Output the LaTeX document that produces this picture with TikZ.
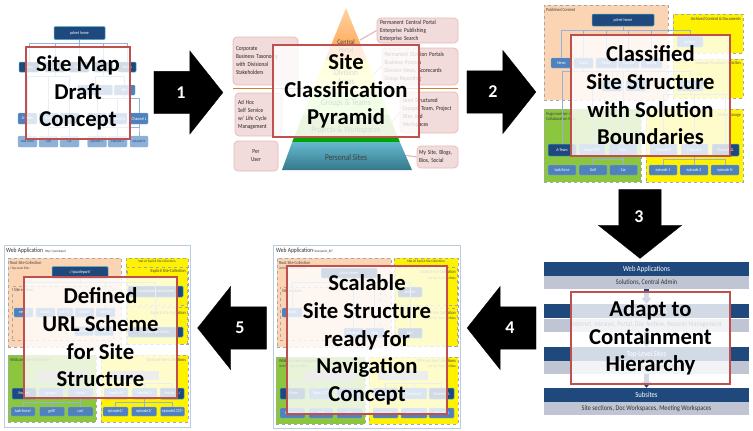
\documentclass[tikz,border=0pt]{standalone}
\usepackage{fontspec}
\setmainfont{Carlito}
\newfontfamily\narrowfont[FakeStretch=0.85]{Carlito}
\usepackage{xcolor}
\usepackage{tikz}
\usetikzlibrary{shapes.arrows,arrows.meta}
\definecolor{navy}{HTML}{1F497D}
\definecolor{steel}{HTML}{4F81BD}
\definecolor{skyish}{HTML}{8DB0D8}
\definecolor{cyanline}{HTML}{4BACC6}
\definecolor{peach}{HTML}{FBD4B4}
\definecolor{leaf}{HTML}{8CC63F}
\definecolor{blush}{HTML}{F2DCDB}
\definecolor{blushline}{HTML}{E6B9B8}
\definecolor{crimson}{HTML}{C0504D}
\definecolor{barsub}{HTML}{BFC5D2}
\definecolor{treeline}{HTML}{95B3D7}
\definecolor{framecol}{HTML}{B8CCE4}
\tikzset{
    w/.style={minimum width=#1pt},
    h/.style={minimum height=#1pt},
    darkbox/.style={fill=navy, draw=cyanline, line width=.5pt, rounded corners=1pt, inner sep=0, text=white, font=\narrowfont\fontsize{4.4}{5}\selectfont},
    midbox/.style={fill=steel, draw=skyish, line width=.3pt, rounded corners=1pt, inner sep=0, text=white, font=\narrowfont\fontsize{4.4}{5}\selectfont},
    lightbox/.style={fill=skyish, draw=steel!60, line width=.3pt, rounded corners=1pt, inner sep=0, text=navy, font=\narrowfont\fontsize{3.8}{5}\selectfont},
    region/.style={draw=black!35, dashed, line width=.5pt, inner sep=0},
    frame/.style={draw=framecol, fill=white, line width=1pt, inner sep=0},
    slab/.style={fill=black!35, inner sep=0},
    tiny/.style={inner sep=0, font=\narrowfont\fontsize{4.6}{5.5}\selectfont, text=black!75},
    tinier/.style={inner sep=0, font=\narrowfont\fontsize{3.5}{4}\selectfont, text=black!75},
    apptitle/.style={inner sep=0, font=\narrowfont\fontsize{6.5}{7}\selectfont, text=black!80},
    pinkbox/.style={fill=blush, draw=blushline, line width=.7pt, rounded corners=4pt, inner sep=0, align=left, font=\narrowfont\fontsize{6.2}{8}\selectfont, text=black!85},
    pinktail/.style={draw=blushline, line width=1.2pt},
    headbar/.style={fill=navy, text=white, inner sep=0, w=205, h=14, font=\narrowfont\fontsize{7.8}{8}\selectfont},
    subbar/.style={fill=barsub, text=black!80, inner sep=0, w=205, h=13, font=\narrowfont\fontsize{7.2}{8}\selectfont},
    barlink/.style={draw=navy, line width=4.5pt, -{Triangle[width=10pt,length=6pt]}},
    link/.style={draw=treeline, line width=.5pt, to path={(\tikztostart.south) -- ++(0,3.5) -| (\tikztotarget.north)}},
    bigarrow/.style={single arrow, fill=black, draw=black, line width=.3pt, inner xsep=0, inner ysep=21pt, minimum height=69pt, single arrow head extend=20.5pt, single arrow tip angle=103},
    arrownum/.style={inner sep=0, text=white, font=\bfseries\fontsize{18}{18}\selectfont},
    caption/.style={draw=crimson, line width=1.5pt, fill=white, fill opacity=.8, text opacity=1, inner sep=0, align=center, font=\bfseries\fontsize{22.7}{27.7}\selectfont},
    band/.style={font=\narrowfont\fontsize{8.8}{9.5}\selectfont, inner sep=0, align=center, text=black!75}
}
\begin{document}
\begin{tikzpicture}[x=1pt, y=-1pt]
    \useasboundingbox (0,0) rectangle (753,431);

    % site map draft
    \node[darkbox, w=51, h=13] (maphome) at (79.5,33) {pdnet home};
    \node[darkbox, w=20, h=10] (mapnews) at (29,67) {News};
    \node[darkbox, w=20, h=10] (mapsocial) at (55,67) {Social};
    \node[darkbox, w=20, h=10] (mappolicy) at (79,67) {Policy};
    \node[darkbox, w=20, h=10] (mapculture) at (103,67) {Culture};
    \node[darkbox, w=18, h=10] (mapsports) at (127,67) {Sports};
    \node[midbox, w=35, h=10] (mapsail) at (95,90) {Sailing};
    \node[midbox, w=21, h=10] (mapbar) at (124.5,90) {Bar};
    \node[midbox, w=19, h=11] (mapteam) at (27.5,118.5) {A-Team};
    \node[midbox, w=19, h=11] (mapgroup) at (48.5,118.5) {Team};
    \node[midbox, w=19, h=11] (mapclubs) at (69.5,118.5) {Clubs};
    \node[midbox, w=19, h=11] (mapchanp) at (97,118.5) {Channel P};
    \node[midbox, w=19, h=11] (mapchantwo) at (117.5,118.5) {Channel 2};
    \node[midbox, w=18, h=11] (mapchanl) at (139,118.5) {Channel L};
    \node[lightbox, w=19, h=11] (maptask) at (27.5,141.5) {task force};
    \node[lightbox, w=19, h=11] (mapgolf) at (48.5,141.5) {Golf};
    \node[lightbox, w=19, h=11] (mapcar) at (69.5,141.5) {Car};
    \node[lightbox, w=19, h=11] (mapepone) at (97,141.5) {episode 1};
    \node[lightbox, w=19, h=11] (mapeptwo) at (117.5,141.5) {episode 2};
    \node[lightbox, w=18, h=11] (mapepn) at (139,141.5) {episode N};
    \draw[link] (maphome) to (mapnews) (maphome) to (mapsocial) (maphome) to (mappolicy) (maphome) to (mapculture) (maphome) to (mapsports);
    \draw[link] (mapculture) to (mapsail) (mapculture) to (mapbar);
    \draw[link] (mapsocial) to (mapteam) (mapsocial) to (mapgroup) (mapsocial) to (mapclubs);
    \draw[link] (mapbar) to (mapchanp) (mapbar) to (mapchantwo) (mapbar) to (mapchanl);
    \draw[link] (mapclubs) to (mapgolf) (mapclubs) to (mapcar) (mapchanl) to (mapepone) (mapchanl) to (mapeptwo) (mapchanl) to (mapepn);
    \node[caption, w=104, h=92] (mapcap) at (78,93) {Site Map\\Draft\\Concept};

    % classification pyramid
    \node[pinkbox, w=81, h=25, text width=75pt] (permcentral) at (417.5,30.5) {Permanent Central Portal\\Enterprise Publishing\\Enterprise Search};
    \node[pinkbox, w=76, h=37, text width=71pt] (permdiv) at (420,66.5) {Permanent Division Portals\\Business Process\\Division News, Scorecards\\Group Reporting};
    \node[pinkbox, w=58, h=41, text width=53pt] (semi) at (429,112.5) {Semi Structured\\Groups, Team, Project\\Sites and\\Workspaces};
    \node[pinkbox, w=41, h=22, text width=37pt] (mysite) at (437.5,157) {My Site, Blogs,\\Bios, Social};
    \node[pinkbox, w=65, h=48, text width=59pt] (taxonomy) at (265.5,61) {Corporate\\Business Taxonomy\\with Divisional\\Stakeholders};
    \node[pinkbox, w=47, h=43, text width=41pt] (adhoc) at (258.5,114.5) {Ad Hoc\\Self Service\\w/ Life Cycle\\Management};
    \node[pinkbox, w=44, h=30, align=center] (peruser) at (256,156) {Per\\User};
    \coordinate (tailcentral) at (360,40);
    \coordinate (taildiv) at (373,75);
    \coordinate (tailsemi) at (390,125);
    \coordinate (tailsite) at (403,155);
    \draw[pinktail] (permcentral.west) -- (tailcentral);
    \draw[pinktail] (permdiv.west) -- (taildiv);
    \draw[pinktail] (semi.west) -- (tailsemi);
    \draw[pinktail] (mysite.west) -- (tailsite);
    \coordinate (ruleleft) at (233,88);
    \coordinate (ruleright) at (458,88);
    \draw[draw=brown!70!orange, line width=1pt] (ruleleft) -- (ruleright);
    \shade[top color=orange!35, bottom color=orange!75] (346,8) -- (366.9,60) -- (325.1,60) -- cycle;
    \shade[top color=yellow!80, bottom color=yellow!35] (325.1,60) -- (366.9,60) -- (379.7,92) -- (312.3,92) -- cycle;
    \fill[green!55!yellow!45] (312.3,92) -- (379.7,92) -- (388.9,115) -- (303.1,115) -- cycle;
    \fill[leaf!80] (303.1,115) -- (388.9,115) -- (398.2,138) -- (293.8,138) -- cycle;
    \fill[green!65!black] (293.8,138) -- (398.2,138) -- (399.8,142) -- (292.2,142) -- cycle;
    \shade[top color=cyanline!85, bottom color=cyanline!70!black] (292.2,142) -- (399.8,142) -- (412,170) -- (282,170) -- cycle;
    \node[band, font=\narrowfont\fontsize{7}{8.5}\selectfont] (central) at (346,46) {Central\\Portal};
    \node[band] (division) at (346,77) {Division\\Areas};
    \node[band] (groups) at (346,103) {Groups \& Teams};
    \node[band] (projects) at (346,130) {Projects \& Workspaces};
    \node[band] (personal) at (346,157) {Personal Sites};
    \node[caption, w=146, h=92] (pyrcap) at (346,91) {Site\\Classification\\Pyramid};

    % classified structure
    \node[region, fill=peach, w=124, h=95] (pubarea) at (606,52.5) {};
    \node[region, fill=yellow, w=70, h=39] (archarea) at (708,33.5) {};
    \node[region, fill=yellow, w=70, h=39] (sepaarea) at (708,78.5) {};
    \node[region, fill=leaf, w=97, h=73] (collarea) at (592.5,145.5) {};
    \node[region, fill=yellow, w=97, h=73] (mediaarea) at (694.5,145.5) {};
    \node[tiny, anchor=west] (pubtext) at (546,10) {Published Content};
    \node[tiny, anchor=east] (archtext) at (741,19) {Archived Content \& Documents};
    \node[tiny, anchor=east] (sepatext) at (741,63) {Separate Puzzlepart Solution};
    \node[tiny, anchor=north west, align=left] (colltext) at (546,112) {Huge number of\\Collaboration Sites};
    \node[tiny, anchor=east] (mediatext) at (741,115) {Media Storage};
    \node[darkbox, w=62, h=12] (clshome) at (623,20) {pdnet home};
    \node[midbox, w=26, h=11] (clsarch) at (690,41.5) {archive};
    \node[midbox, w=21, h=10] (clsnews) at (561.5,63) {News};
    \node[midbox, w=19, h=10] (clssocial) at (583.5,63) {Social};
    \node[midbox, w=21, h=10] (clspolicy) at (606.5,63) {Policy};
    \node[midbox, w=21, h=10] (clsculture) at (628.5,63) {Culture};
    \node[midbox, w=21, h=10] (clssports) at (651.5,63) {Sports};
    \node[midbox, w=20, h=11] (clsfoot) at (612,85.5) {Football};
    \node[midbox, w=20, h=11] (clsship) at (636,85.5) {Ship};
    \node[midbox, w=26, h=11] (clsbar) at (690,85.5) {Bar};
    \node[darkbox, w=28, h=12] (clsteam) at (562,150) {A-Team};
    \node[midbox, w=26, h=12] (clsleet) at (592,150) {Team 1337};
    \node[midbox, w=28, h=12] (clsclubs) at (623,150) {Clubs};
    \node[midbox, w=27, h=12] (clschanp) at (663.5,150) {Channel P};
    \node[midbox, w=27, h=12] (clschantwo) at (694.5,150) {Channel 2};
    \node[darkbox, w=27, h=12] (clschanl) at (725.5,150) {Channel 1L};
    \node[midbox, w=28, h=10] (clstask) at (562,170) {task force};
    \node[midbox, w=28, h=10] (clsgolf) at (593,170) {Golf};
    \node[midbox, w=28, h=10] (clscar) at (623.5,170) {Car};
    \node[midbox, w=28, h=10] (clsepone) at (663,170) {episode 1};
    \node[midbox, w=28, h=10] (clseptwo) at (694,170) {episode 2};
    \node[midbox, w=28, h=10] (clsepn) at (725,170) {episode N};
    \draw[link] (clshome) to (clsarch) (clshome) to (clsnews) (clshome) to (clssocial) (clshome) to (clspolicy) (clshome) to (clsculture) (clshome) to (clssports);
    \draw[link] (clsculture) to (clsfoot) (clsculture) to (clsship) (clsculture) to (clsbar);
    \draw[link] (clssocial) to (clsteam) (clssocial) to (clsleet) (clssocial) to (clsclubs);
    \draw[link] (clsbar) to (clschanp) (clsbar) to (clschantwo) (clsbar) to (clschanl);
    \draw[link] (clsclubs) to (clsgolf) (clsclubs) to (clscar) (clschantwo) to (clsepone) (clschantwo) to (clseptwo) (clschantwo) to (clsepn);
    \node[caption, w=159, h=121] (clscap) at (650.5,95.5) {Classified\\Site Structure\\with Solution\\Boundaries};

    % containment hierarchy
    \node[headbar] (webhead) at (646.5,269) {Web Applications};
    \node[subbar] (websub) at (646.5,282.5) {Solutions, Central Admin};
    \node[headbar] (collhead) at (646.5,311) {Site Collections};
    \node[subbar] (collsub) at (646.5,325) {Internet, Intranet, Portal, Doc Archive, Records Management};
    \node[headbar] (tophead) at (646.5,354) {Top-Level Sites};
    \node[subbar] (topsub) at (646.5,367.5) {Site home, Team Sites, Blogs};
    \node[headbar] (subhead) at (646.5,395) {Subsites};
    \node[subbar] (subsub) at (646.5,408.5) {Site sections, Doc Workspaces, Meeting Workspaces};
    \draw[barlink] (websub) -- (collhead);
    \draw[barlink] (collsub) -- (tophead);
    \draw[barlink] (topsub) -- (subhead);
    \node[caption, w=159, h=92] (hiercap) at (650.5,338) {Adapt to\\Containment\\Hierarchy};

    % scalable structure
    \node[frame, w=187, h=183] (scaframe) at (366.5,336.5) {};
    \node[apptitle, anchor=west] (scatitle) at (276,251) {Web Application};
    \node[tinier, anchor=west] (scaname) at (313,252) {"sharepoint\_80"};
    \node[region, fill=peach, w=114, h=89] (scaroot) at (334,302.5) {};
    \node[region, fill=yellow, w=64, h=88] (scaexp) at (426,302) {};
    \node[region, w=62, h=38] (scaexpone) at (426,286) {};
    \node[region, w=62, h=38] (scaexptwo) at (426,327) {};
    \node[region, w=100, h=53] (scasect) at (330,313.5) {};
    \node[region, fill=leaf, w=89, h=67] (scawild) at (320.5,390.5) {};
    \node[region, fill=yellow, w=89, h=67] (scamedia) at (413.5,390.5) {};
    \node[tiny, anchor=west] (scarootx) at (279,263) {Root Site-Collection};
    \node[tinier, anchor=west] (scaroott) at (279,269) {2nd tier Top-Level Site};
    \node[tinier] (scamax) at (426,262) {Max 20 Explicit Site-Collections};
    \node[tiny, anchor=east] (scaexpx) at (456,272) {Explicit Site-Collection};
    \node[tinier, anchor=east] (scaexpt) at (456,279) {2nd tier Top-Level Sites};
    \node[tiny, anchor=east] (scaexpy) at (456,313) {Explicit Site-Collection};
    \node[tinier, anchor=east] (scaexpu) at (456,319) {2nd tier Top-Level Sites};
    \node[tiny, anchor=west] (scasectx) at (282,291) {Site sections};
    \node[tiny, anchor=west] (scawildx) at (279,361) {Wildcard Site-Collections};
    \node[tinier, anchor=west] (scawildt) at (279,367) {2nd tier Top-Level Sites};
    \node[tiny, anchor=east] (scamediax) at (456,361) {Wildcard Site-Collections};
    \node[tinier, anchor=east] (scamediat) at (456,367) {2nd tier Top-Level Sites};
    \node[darkbox, w=56, h=10] (scahome) at (349,273) {pdnet home};
    \node[darkbox, w=24, h=10] (scaarch) at (410,292) {archive};
    \node[midbox, w=20, h=9] (scanews) at (292,312.5) {News};
    \node[midbox, w=19, h=10] (scafoot) at (353.5,333) {Football};
    \node[midbox, w=19, h=10] (scaship) at (374.5,333) {Ship};
    \node[darkbox, w=24, h=10] (scabar) at (410,333) {Bar!};
    \node[slab, w=50, h=9] (scaslabl) at (330,375.5) {};
    \node[slab, w=50, h=9] (scaslabr) at (403,375.5) {};
    \node[darkbox, w=25, h=11] (scateam) at (292.5,393.5) {A-Team};
    \node[midbox, w=24, h=11] (scaleet) at (321,393.5) {Team 1337};
    \node[midbox, w=25, h=11] (scaclubs) at (349.5,393.5) {Clubs};
    \node[midbox, w=25, h=11] (scachanp) at (385.5,393.5) {Channel P};
    \node[midbox, w=26, h=11] (scachantwo) at (414,393.5) {Channel 2};
    \node[darkbox, w=25, h=11] (scachanl) at (441.5,393.5) {Channel 1L};
    \node[midbox, w=25, h=10] (scatask) at (292.5,413) {task force};
    \node[midbox, w=24, h=10] (scagolf) at (321,413) {Golf};
    \node[midbox, w=25, h=10] (scacar) at (349.5,413) {Car};
    \node[midbox, w=25, h=10] (scaepone) at (385.5,413) {episode 1};
    \node[midbox, w=26, h=10] (scaeptwo) at (414,413) {episode 2};
    \node[midbox, w=25, h=10] (scaepn) at (441.5,413) {episode N};
    \draw[link] (scahome) to (scanews) (scahome) to (scaarch) (scahome) to (scafoot) (scahome) to (scaship) (scahome) to (scabar);
    \draw[link] (scaslabl) to (scateam) (scaslabl) to (scaleet) (scaslabl) to (scaclubs);
    \draw[link] (scaslabr) to (scachanp) (scaslabr) to (scachantwo) (scaslabr) to (scachanl);
    \node[caption, w=160, h=148] (scacap) at (367,340) {Scalable\\Site Structure\\ready for\\Navigation\\Concept};

    % url scheme
    \node[frame, w=186, h=182] (urlframe) at (97,336) {};
    \node[apptitle, anchor=west] (urltitle) at (6,251) {Web Application};
    \node[tinier, anchor=west] (urlname) at (45,252) {http://puzzlepart};
    \node[region, fill=peach, w=113, h=89] (urlroot) at (64.5,302.5) {};
    \node[region, fill=yellow, w=62, h=86] (urlexp) at (157,301) {};
    \node[region, w=60, h=38] (urlexpone) at (157,286) {};
    \node[region, w=60, h=37] (urlexptwo) at (157,325.5) {};
    \node[region, w=101, h=54] (urlsect) at (62.5,313) {};
    \node[region, fill=leaf, w=88, h=67] (urlwild) at (52,388.5) {};
    \node[region, fill=yellow, w=87, h=67] (urlmedia) at (144.5,388.5) {};
    \node[tiny, anchor=west] (urlrootx) at (10,263) {Root Site-Collection};
    \node[tinier, anchor=west] (urlroott) at (10,269) {<Top-Level Site>};
    \node[tinier] (urlmax) at (157,262) {Max 20 Explicit Site-Collections};
    \node[tiny, anchor=east] (urlexpx) at (186,271) {Explicit Site-Collection};
    \node[tiny, anchor=east] (urlexpy) at (186,313) {Explicit Site-Collection};
    \node[tiny, anchor=west] (urlsectx) at (14,290) {Site sections};
    \node[tiny, anchor=west] (urlwildx) at (10,360) {Wildcard Site-Collections};
    \node[tiny, anchor=east] (urlmediax) at (186,360) {Wildcard Site-Collections};
    \node[darkbox, w=56, h=12] (urlhome) at (80,272.5) {://puzzlepart/};
    \node[darkbox, w=55, h=11] (urldocs) at (155.5,291.5) {://puzzlepart/documents};
    \node[darkbox, w=55, h=10] (urlbox) at (155.5,332) {://puzzlepart/box/};
    \node[midbox, w=19, h=9] (urlnews) at (23.5,312.5) {news/};
    \node[midbox, w=19, h=9] (urlsocial) at (45.5,312.5) {social/};
    \node[midbox, w=16, h=9] (urlpolicy) at (65,312.5) {pol-nr/};
    \node[midbox, w=19, h=9] (urlculture) at (84.5,312.5) {culture/};
    \node[midbox, w=19, h=9] (urlsports) at (105.5,312.5) {sports/};
    \node[midbox, w=19, h=9] (urlfoot) at (84,331) {football/};
    \node[midbox, w=19, h=9] (urlship) at (104,331) {ship/};
    \node[slab, w=50, h=9] (urlslabl) at (62,375) {};
    \node[slab, w=50, h=9] (urlslabr) at (134,375) {};
    \node[darkbox, w=24, h=11] (urlteam) at (24,393.5) {/teams/};
    \node[midbox, w=24, h=11] (urlgroups) at (51,393.5) {/groups/};
    \node[midbox, w=25, h=11] (urlclubs) at (80.5,393.5) {/clubs/};
    \node[midbox, w=24, h=11] (urlmediap) at (116,393.5) {/media-P/};
    \node[midbox, w=25, h=11] (urlmediatwo) at (144.5,393.5) {/media-2/};
    \node[darkbox, w=24, h=11] (urlmedial) at (172,393.5) {/media-1L/};
    \node[midbox, w=24, h=9] (urltask) at (23,411.5) {task-force/};
    \node[midbox, w=25, h=9] (urlgolf) at (52,411.5) {golf/};
    \node[midbox, w=25, h=9] (urlcar) at (80.5,411.5) {car/};
    \node[midbox, w=25, h=9] (urlepone) at (115.5,411.5) {episode1/};
    \node[midbox, w=25, h=9] (urleptwo) at (144,411.5) {episode2/};
    \node[midbox, w=24, h=9] (urlepn) at (172.5,411.5) {episode1337/};
    \draw[link] (urlhome) to (urlnews) (urlhome) to (urlsports) (urlhome) to (urldocs) (urlhome) to (urlbox);
    \draw[link] (urlslabl) to (urlteam) (urlslabl) to (urlgroups) (urlslabl) to (urlclubs);
    \draw[link] (urlslabr) to (urlmediap) (urlslabr) to (urlmediatwo) (urlslabr) to (urlmedial);
    \draw[link] (urlclubs) to (urltask) (urlclubs) to (urlgolf) (urlclubs) to (urlcar);
    \draw[link] (urlmediatwo) to (urlepone) (urlmediatwo) to (urleptwo) (urlmediatwo) to (urlepn);
    \node[caption, w=153, h=121] (urlcap) at (100.5,337.5) {Defined\\URL Scheme\\for Site\\Structure};

    % big arrows
    \node[bigarrow] (arrowone) at (180,92.5) {};
    \node[bigarrow] (arrowtwo) at (493,92) {};
    \node[bigarrow, shape border rotate=270, inner xsep=21pt, inner ysep=0pt] (arrowthree) at (640,215.5) {};
    \node[bigarrow, shape border rotate=180] (arrowfour) at (510,328) {};
    \node[bigarrow, shape border rotate=180] (arrowfive) at (240.5,328) {};
    \node[arrownum] (numone) at (181,93) {1};
    \node[arrownum] (numtwo) at (493,92) {2};
    \node[arrownum] (numthree) at (639,217) {3};
    \node[arrownum] (numfour) at (510,328) {4};
    \node[arrownum] (numfive) at (240,328) {5};
\end{tikzpicture}
\end{document}
